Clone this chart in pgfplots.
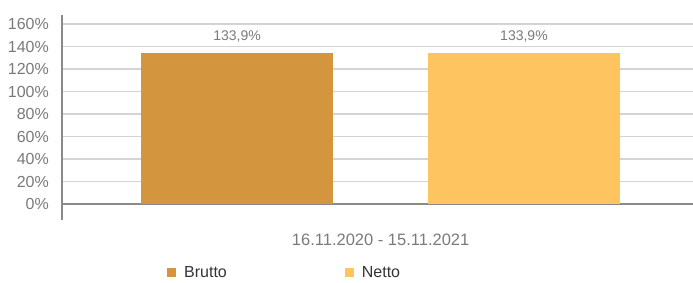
\documentclass[border=0pt]{standalone}
\usepackage{pgfplots}
\pgfplotsset{compat=1.18}
\usepackage{fontspec}
\setmainfont{Liberation Sans}
\definecolor{brutto}{HTML}{D3963F}
\definecolor{netto}{HTML}{FDC45F}
\definecolor{gridc}{HTML}{D4D4D4}
\definecolor{axc}{HTML}{8A8A8A}
\definecolor{tickc}{HTML}{7A7A7A}
\begin{document}
\begin{tikzpicture}
\useasboundingbox (-62pt,-62pt) rectangle (631pt,220pt);
\begin{axis}[
  scale only axis, width=631pt, height=205pt,
  clip=false,
  xmin=-0.6098, xmax=1.589, ymin=-14.2, ymax=168,
  axis x line=none, axis y line=left,
  axis line style={-, axc, line width=2pt},
  ytick={0,20,...,160},
  yticklabel={\pgfmathprintnumber{\tick}\%},
  yticklabel style={anchor=east, inner sep=0pt, xshift=-13pt, font=\fontsize{16}{18}\selectfont, text=tickc},
  /pgf/number format/assume math mode=true,
  major tick length=0pt,
  ymajorgrids, grid style={gridc, line width=1.5pt},
  extra y ticks={0}, extra y tick labels={},
  extra y tick style={grid style={axc, line width=2pt}},
  ybar, bar width=0.669, bar shift=0pt,
  nodes near coords={133,9\%},
  every node near coord/.style={font=\fontsize{14}{16}\selectfont, text=tickc, anchor=south, yshift=8pt},
  legend columns=2,
  legend style={draw=none, fill=none, at={(rel axis cs:0.1664,-0.2585)}, anchor=west, inner sep=0pt,
    font=\fontsize{16}{18}\selectfont, text=black!80,
    /tikz/every odd column/.append style={column sep=6pt},
    /tikz/every even column/.append style={column sep=116pt}},
  legend image code/.code={\fill[#1] (0pt,-4.5pt) rectangle (9pt,4.5pt);},
]
\addplot[fill=brutto, draw=none] coordinates {(0,133.9)};
\addlegendentry{Brutto}
\addplot[fill=netto, draw=none] coordinates {(1,133.9)};
\addlegendentry{Netto}
\node[font=\fontsize{16.5}{18}\selectfont, text=tickc] at (rel axis cs:0.505,-0.095) {16.11.2020 - 15.11.2021};
\end{axis}
\end{tikzpicture}
\end{document}
